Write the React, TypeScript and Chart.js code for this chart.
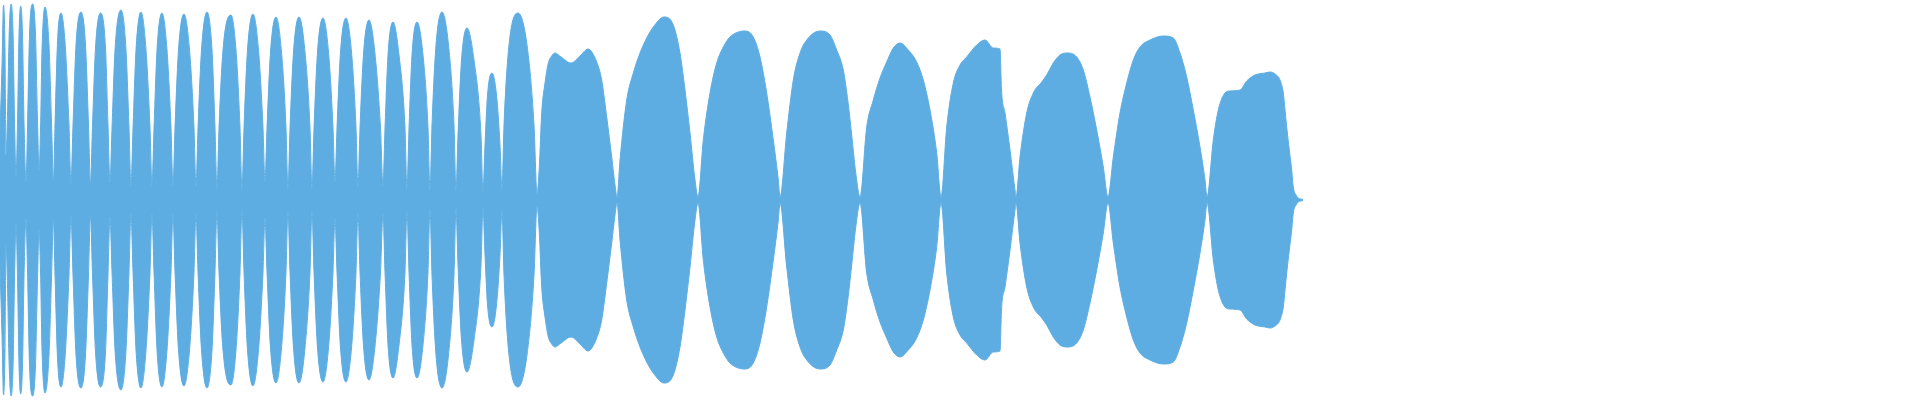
import React, { useEffect, useRef } from "react";
import { Chart, registerables } from "chart.js";

Chart.register(...registerables);

// Envelope of the waveform: sample position and peak amplitude (symmetric about zero)
const ENV_X: number[] = [
  0, 2, 3.5, 5, 6, 7.5, 9, 11, 13, 14.5, 16,
  17.5, 19, 20.7, 22.5, 24, 26,
  27.5, 29.5, 32.7, 35.5, 37.5, 39,
  40.5, 42, 45, 49, 51.5, 53.5,
  55, 57.5, 61, 65, 69, 71,
  73, 76, 81, 85.5, 88.5, 90.5,
  92.5, 95.5, 100.5, 105.5, 108, 110,
  112, 115, 121, 126, 129, 131,
  133, 136, 141, 146, 150, 152,
  154, 157, 162, 167, 171, 173,
  175, 178.5, 184, 189.5, 194, 196,
  198, 201.5, 207, 212, 215, 217,
  219, 223, 231, 236, 240, 242,
  244, 247.5, 253, 258.5, 263, 265,
  267, 270.5, 276, 281.5, 286, 288,
  290, 293.5, 299, 305, 310, 312,
  314, 317.5, 323, 328.5, 333, 335,
  337, 340.5, 346, 351.5, 356, 358,
  360, 363.5, 369, 375, 380.5, 383,
  385, 388, 393, 399, 405, 407,
  409, 412, 417, 423, 428, 430,
  432, 436, 442, 448.5, 454, 456,
  458, 461.5, 467, 474, 481, 483,
  485, 487.5, 492, 496.5, 500, 502,
  504, 509, 518, 527, 534, 537,
  539.3, 541.7, 545, 548.3, 551.7, 555, 561, 571, 580, 588, 596.7, 601.7, 606.7, 611.7, 615, 617,
  620, 626.7, 633.3, 640, 646.7, 653.3, 664, 673.3, 680, 685, 690, 695, 698,
  703.3, 710, 716.7, 723.3, 730, 745, 753.3, 760, 766.7, 773.3, 778.3, 780,
  786.7, 793.3, 800, 806.7, 820, 830, 836.7, 843.3, 848, 852, 856, 860,
  866.7, 873.3, 880, 886.7, 893.3, 900, 908.3, 916.7, 923.3, 930, 936.7, 941,
  946.7, 953.3, 960, 966.7, 976.7, 985, 993.3, 1000, 1001.5, 1005, 1010, 1015, 1016,
  1020, 1026.7, 1033.3, 1041.7, 1046.7, 1053.3, 1060, 1068.3, 1076.7, 1083.3, 1090, 1096.7, 1103.3, 1108,
  1113.3, 1120, 1126.7, 1133.3, 1140, 1150, 1163.3, 1173.3, 1180, 1186.7, 1193.3, 1200, 1205, 1207,
  1213.3, 1218.3, 1225, 1230, 1240, 1246.7, 1255, 1265, 1270, 1275, 1280, 1283.3, 1285, 1286.7, 1289.3, 1291.7, 1293.3, 1296, 1298.3, 1303,
];

const ENV_A: number[] = [
  67, 135, 195, 150, 45, 85, 160, 196, 168, 80, 24,
  78, 165, 194, 165, 78, 19,
  72, 165, 196, 165, 80, 30,
  70, 150, 193, 155, 78, 20,
  75, 158, 187, 158, 75, 16,
  75, 155, 188, 155, 75, 15,
  75, 152, 187, 152, 75, 17,
  72, 150, 190, 150, 72, 14,
  72, 150, 188, 150, 72, 14,
  72, 150, 187, 150, 72, 14,
  72, 150, 186, 150, 72, 13,
  72, 150, 188, 150, 72, 11,
  72, 150, 185, 150, 72, 10,
  72, 150, 186, 150, 72, 18,
  72, 148, 183, 148, 72, 11,
  72, 148, 183, 148, 72, 11,
  72, 148, 182, 148, 72, 18,
  72, 148, 182, 148, 72, 13,
  72, 146, 180, 146, 72, 14,
  72, 145, 178, 145, 72, 11,
  72, 145, 178, 145, 72, 9,
  75, 155, 188, 155, 75, 9,
  65, 140, 172, 140, 65, 8,
  55, 105, 127, 105, 55, 10,
  75, 155, 187, 155, 75, 6,
  33, 87, 117, 137, 144, 147, 143, 137, 144, 151, 138, 120, 83, 43, 15, 3,
  40, 100, 127, 147, 162, 173, 183, 175, 147, 110, 67, 20, 3,
  60, 107, 137, 153, 163, 169, 163, 143, 107, 60, 20, 3,
  67, 120, 147, 160, 169, 165, 150, 130, 98, 62, 25, 3,
  73, 100, 122, 138, 152, 157, 150, 138, 120, 90, 47, 3,
  73, 117, 135, 143, 155, 160, 152, 151, 110, 87, 50, 10, 3,
  43, 87, 107, 118, 125, 137, 145, 147, 143, 130, 103, 70, 33, 3,
  43, 87, 117, 140, 153, 160, 164, 162, 147, 123, 90, 53, 20, 3,
  60, 90, 107, 109, 110, 119, 125, 127, 128, 126, 120, 107, 90, 73, 50, 30, 13, 5, 2, 0.5,
];

const FILL_COLOR = "#5DADE2";

export default function App() {
  const canvasRef = useRef<HTMLCanvasElement | null>(null);

  useEffect(() => {
    document.body.style.margin = "0";
    const canvas = canvasRef.current;
    if (!canvas) return;
    const upper = ENV_X.map((x, i) => ({ x, y: ENV_A[i] }));
    const lower = ENV_X.map((x, i) => ({ x, y: -ENV_A[i] }));
    const common = {
      fill: "origin" as const,
      backgroundColor: FILL_COLOR,
      borderColor: FILL_COLOR,
      borderWidth: 1,
      pointRadius: 0,
      cubicInterpolationMode: "monotone" as const,
    };
    const chart = new Chart(canvas, {
      type: "line",
      data: {
        datasets: [
          { label: "max", data: upper, ...common },
          { label: "min", data: lower, ...common },
        ],
      },
      options: {
        responsive: false,
        animation: false,
        layout: { padding: 0 },
        scales: {
          x: { type: "linear", min: 0, max: 1920, display: false },
          y: { min: -200, max: 200, display: false },
        },
        plugins: {
          legend: { display: false },
          tooltip: { enabled: false },
        },
        elements: { point: { radius: 0 } },
      },
    });
    return () => chart.destroy();
  }, []);

  return (
    <div style={{ width: 1920, height: 400 }}>
      <canvas ref={canvasRef} width={1920} height={400} style={{ display: "block" }} />
    </div>
  );
}
